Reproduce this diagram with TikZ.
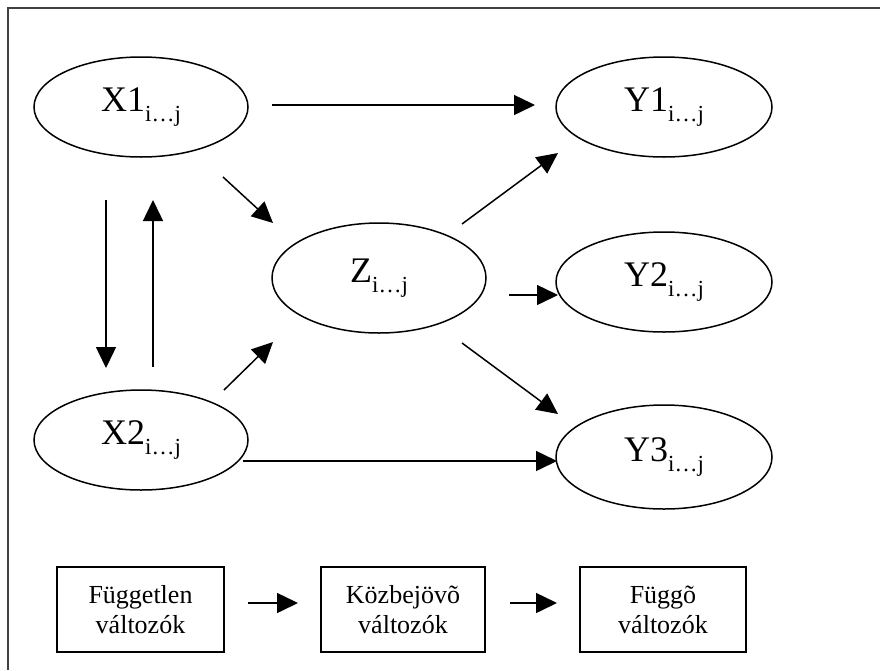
\documentclass[tikz,border=0pt]{standalone}
\usepackage{fontspec}
\setmainfont{Liberation Serif}
\usetikzlibrary{arrows.meta,shapes.geometric}
\tikzset{
  ell/.style={draw, line width=1.5pt, ellipse, inner sep=0pt, minimum width=214pt, minimum height=100pt},
  bx/.style={draw, line width=1.5pt, rectangle, inner sep=0pt, align=center,
    font=\fontsize{26}{30}\selectfont},
  arr/.style={line width=1.5pt, -{Triangle[length=21pt,width=20pt]}},
  frame/.style={line width=2pt, draw=black!75}
}
\newcommand{\lbl}[2]{\fontsize{36}{40}\selectfont #1\raisebox{-10pt}{\fontsize{23}{26}\selectfont #2}}
\begin{document}
\begin{tikzpicture}[x=1pt,y=-1pt]
\useasboundingbox (0,0) rectangle (880,670);
\draw[frame] (8,670) -- (8,8) -- (880,8);
% ellipses
\node[ell] (x1) at (141,107) {\lbl{X1}{i…j}};
\node[ell] (x2) at (141,440) {\lbl{X2}{i…j}};
\node[ell, minimum height=110pt] (z) at (379,278) {\lbl{Z}{i…j}};
\node[ell, minimum width=216pt] (y1) at (664,107) {\lbl{Y1}{i…j}};
\node[ell, minimum width=216pt] (y2) at (664,282) {\lbl{Y2}{i…j}};
\node[ell, minimum width=216pt, minimum height=104pt] (y3) at (664,457) {\lbl{Y3}{i…j}};
% boxes
\node[bx, minimum width=167pt, minimum height=85pt] (b1) at (140.5,609.5) {Független\\változók};
\node[bx, minimum width=164pt, minimum height=85pt] (b2) at (403,609.5) {Közbejövõ\\változók};
\node[bx, minimum width=166pt, minimum height=85pt] (b3) at (663,609.5) {Függõ\\változók};
% arrow end points
\coordinate (a1s) at (272,105);  \coordinate (a1e) at (535,105);
\coordinate (a2s) at (223,177);  \coordinate (a2e) at (273,223);
\coordinate (a3s) at (106,200);  \coordinate (a3e) at (106,368);
\coordinate (a4s) at (153,367);  \coordinate (a4e) at (153,200);
\coordinate (a5s) at (224,390);  \coordinate (a5e) at (273,342);
\coordinate (a6s) at (462,224);  \coordinate (a6e) at (558,153);
\coordinate (a7s) at (509,295);  \coordinate (a7e) at (558,295);
\coordinate (a8s) at (462,343);  \coordinate (a8e) at (558,414);
\coordinate (a9s) at (243,461);  \coordinate (a9e) at (557,461);
\coordinate (a10s) at (248,603); \coordinate (a10e) at (298,603);
\coordinate (a11s) at (510,603); \coordinate (a11e) at (557,603);
\draw[arr] (a1s) -- (a1e);
\draw[arr] (a2s) -- (a2e);
\draw[arr] (a3s) -- (a3e);
\draw[arr] (a4s) -- (a4e);
\draw[arr] (a5s) -- (a5e);
\draw[arr] (a6s) -- (a6e);
\draw[arr] (a7s) -- (a7e);
\draw[arr] (a8s) -- (a8e);
\draw[arr] (a9s) -- (a9e);
\draw[arr] (a10s) -- (a10e);
\draw[arr] (a11s) -- (a11e);
\end{tikzpicture}
\end{document}
